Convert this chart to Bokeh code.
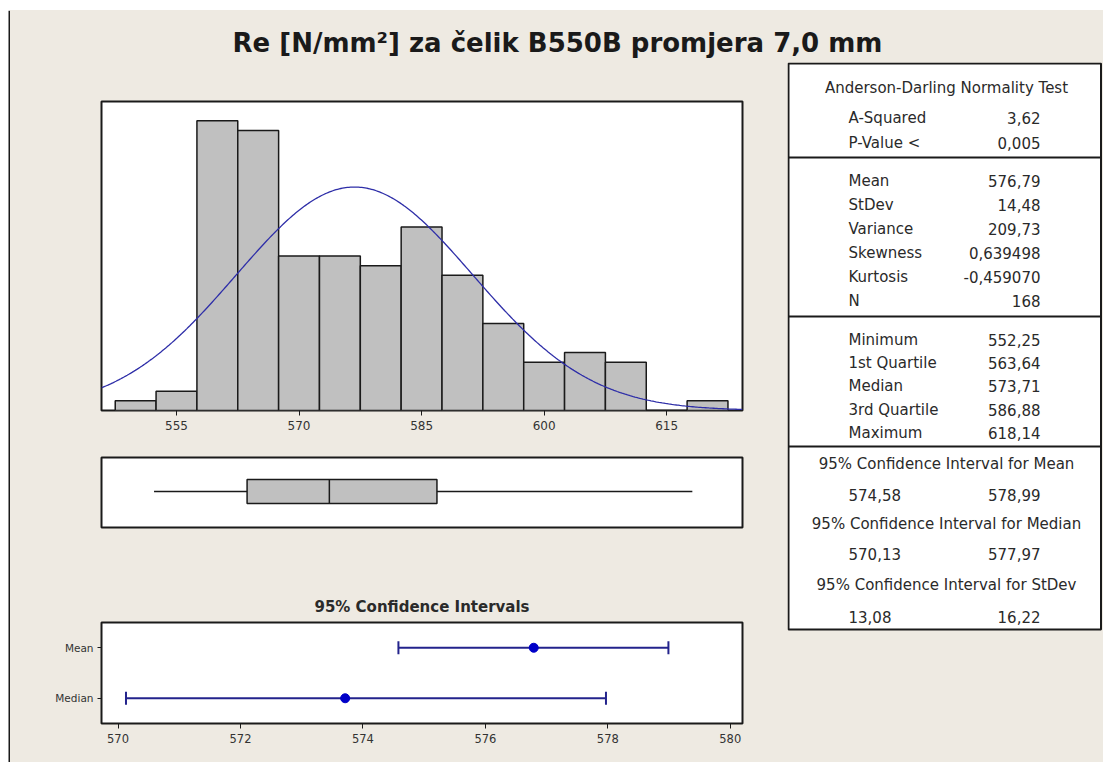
import numpy as np
from bokeh.plotting import figure
from bokeh.layouts import column, row
from bokeh.models import Range1d, FactorRange, FixedTicker
from bokeh.core.properties import value
from bokeh.embed import file_html
from bokeh.resources import INLINE

# ---------------- data ----------------
TITLE = "Re [N/mm²] za čelik B550B promjera 7,0 mm"
BIN_CENTERS = [550, 555, 560, 565, 570, 575, 580, 585, 590, 595, 600, 605, 610, 615, 620]
COUNTS = [1, 2, 30, 29, 16, 16, 15, 19, 14, 9, 5, 6, 5, 0, 1]
BIN_WIDTH = 5
HIST_TICKS = [555, 570, 585, 600, 615]

MEAN = 576.79
STDEV = 14.48
N = 168
MINIMUM = 552.25
Q1 = 563.64
MEDIAN = 573.71
Q3 = 586.88
MAXIMUM = 618.14

CI_LABELS = ["Median", "Mean"]
CI_CENTERS = [MEDIAN, MEAN]
CI_LOWS = [570.13, 574.58]
CI_HIGHS = [577.97, 578.99]
CI_TICKS = [570, 572, 574, 576, 578, 580]
CI_TITLE = "95% Confidence Intervals"

AD_HEADER = "Anderson-Darling Normality Test"
AD_LABELS = ["A-Squared", "P-Value <"]
AD_VALUES = ["3,62", "0,005"]
DESC_LABELS = ["Mean", "StDev", "Variance", "Skewness", "Kurtosis", "N"]
DESC_VALUES = ["576,79", "14,48", "209,73", "0,639498", "-0,459070", "168"]
QUART_LABELS = ["Minimum", "1st Quartile", "Median", "3rd Quartile", "Maximum"]
QUART_VALUES = ["552,25", "563,64", "573,71", "586,88", "618,14"]
CI_HEADERS = ["95% Confidence Interval for Mean",
              "95% Confidence Interval for Median",
              "95% Confidence Interval for StDev"]
CI_LOW_TXT = ["574,58", "570,13", "13,08"]
CI_HIGH_TXT = ["578,99", "577,97", "16,22"]

# ---------------- style ----------------
BG = "#EEEAE2"
DARK = "#1A1A1A"
TXT = "#2A2A2A"
FONT = "DejaVu Sans"
GRAY = "#C0C0C0"
CURVE = "#2E2EA8"
CI_LINE = "#23238C"
CI_DOT = "#0000C8"
LEFT_W = 777
HIST_X = (545.82, 624.28)
BGSTYLE = {"background-color": BG}


def base_fig(**kw):
    p = figure(toolbar_location=None, output_backend="svg", **kw)
    p.border_fill_color = BG
    p.background_fill_color = "white"
    p.outline_line_color = DARK
    p.outline_line_width = 2
    p.xgrid.visible = False
    p.ygrid.visible = False
    return p


def style_axis(ax, size):
    ax.major_label_text_font = FONT
    ax.major_label_text_font_size = size
    ax.major_label_text_color = "#333333"
    ax.axis_line_color = None
    ax.major_tick_line_color = DARK
    ax.major_tick_line_width = 1
    ax.major_tick_out = 5
    ax.major_tick_in = 0
    ax.minor_tick_out = 0
    ax.minor_tick_in = 0
    ax.major_label_standoff = 5


def plain_fig(w, h, xr, yr, fill):
    p = figure(width=w, height=h, toolbar_location=None, output_backend="svg",
               x_axis_location=None, y_axis_location=None, min_border=0,
               x_range=Range1d(*xr), y_range=Range1d(*yr))
    p.background_fill_color = fill
    p.border_fill_color = fill
    p.outline_line_color = None
    p.xgrid.visible = False
    p.ygrid.visible = False
    return p


# ---------------- histogram ----------------
hist = base_fig(width=LEFT_W, height=383, x_range=Range1d(*HIST_X), y_range=Range1d(0, 32),
                y_axis_location=None, min_border_left=91, min_border_right=45,
                min_border_top=39, min_border_bottom=35)
lefts = [c - BIN_WIDTH / 2 for c in BIN_CENTERS]
rights = [c + BIN_WIDTH / 2 for c in BIN_CENTERS]
hist.quad(left=lefts, right=rights, bottom=0, top=COUNTS, fill_color=GRAY,
          line_color=DARK, line_width=1.5)
xs = np.linspace(HIST_X[0], HIST_X[1], 400)
ys = N * BIN_WIDTH / (STDEV * np.sqrt(2 * np.pi)) * np.exp(-0.5 * ((xs - MEAN) / STDEV) ** 2)
hist.line(xs, ys, line_color=CURVE, line_width=1.3)
hist.xaxis.ticker = FixedTicker(ticks=HIST_TICKS)
style_axis(hist.xaxis, "12px")

# ---------------- boxplot ----------------
box = base_fig(width=LEFT_W, height=100, x_range=Range1d(*HIST_X), y_range=Range1d(0, 1),
               x_axis_location=None, y_axis_location=None, min_border_left=91,
               min_border_right=45, min_border_top=12, min_border_bottom=18)
box.segment(x0=[MINIMUM, Q3], y0=[0.514, 0.514], x1=[Q1, MAXIMUM], y1=[0.514, 0.514],
            line_color=DARK, line_width=1.5)
box.quad(left=[Q1], right=[Q3], bottom=[0.343], top=[0.686], fill_color=GRAY,
         line_color=DARK, line_width=1.5)
box.segment(x0=[MEDIAN], y0=[0.343], x1=[MEDIAN], y1=[0.686], line_color=DARK, line_width=1.5)

# ---------------- confidence intervals ----------------
ci = base_fig(width=LEFT_W, height=217, x_range=Range1d(569.73, 580.2),
              y_range=FactorRange(factors=CI_LABELS), min_border_left=91,
              min_border_right=45, min_border_top=77, min_border_bottom=39,
              title=CI_TITLE)
ci.title.align = "center"
ci.title.text_font = FONT
ci.title.text_font_size = "15px"
ci.title.text_font_style = "bold"
ci.title.text_color = TXT
ci.title.standoff = 13
ci.segment(x0=CI_LOWS, y0=CI_LABELS, x1=CI_HIGHS, y1=CI_LABELS, line_color=CI_LINE, line_width=2)
ci.scatter(x=CI_LOWS + CI_HIGHS, y=CI_LABELS + CI_LABELS, marker="dash", angle=np.pi / 2,
           size=13, line_color=CI_LINE, line_width=2)
ci.scatter(x=CI_CENTERS, y=CI_LABELS, marker="circle", size=9, fill_color=CI_DOT, line_color=CI_DOT)
ci.xaxis.ticker = FixedTicker(ticks=CI_TICKS)
style_axis(ci.xaxis, "11.5px")
style_axis(ci.yaxis, "10.5px")
ci.yaxis.major_tick_out = 4
ci.yaxis.major_label_standoff = 4

# ---------------- title ----------------
ttl = plain_fig(1093, 52, (10, 1103), (62, 10), BG)
ttl.text(x=[557], y=[42], text=[TITLE], text_align="center", text_baseline="middle",
         text_font=value(FONT), text_font_style="bold", text_font_size="26px", text_color=DARK)

# ---------------- statistics table ----------------
tab = plain_fig(316, 700, (787, 1103), (762, 62), BG)
tab.quad(left=[788], right=[1100.5], top=[63], bottom=[629], fill_color="white",
         line_color=DARK, line_width=2)
tab.segment(x0=[788] * 3, x1=[1100.5] * 3, y0=[157, 316, 446], y1=[157, 316, 446],
            line_color=DARK, line_width=2)

LX, RX, CX = 848, 1040, 946
FS = "15px"


def tcol(xv, yv, txt, align):
    tab.text(x=xv, y=yv, text=txt, text_align=align, text_baseline="middle",
             text_font=value(FONT), text_font_size=FS, text_color=TXT)


ad_y = [117, 142]
desc_y = [180, 204, 228, 252, 276, 300]
quart_y = [339, 362, 385, 409, 432]
cih_y = [463, 523, 584]
civ_y = [494, 553, 616]

tcol([CX], [87], [AD_HEADER], "center")
tcol([LX] * 2, ad_y, AD_LABELS, "left")
tcol([RX] * 2, ad_y, AD_VALUES, "right")
tcol([LX] * 6, desc_y, DESC_LABELS, "left")
tcol([RX] * 6, desc_y, DESC_VALUES, "right")
tcol([LX] * 5, quart_y, QUART_LABELS, "left")
tcol([RX] * 5, quart_y, QUART_VALUES, "right")
tcol([CX] * 3, cih_y, CI_HEADERS, "center")
tcol([LX] * 3, civ_y, CI_LOW_TXT, "left")
tcol([RX] * 3, civ_y, CI_HIGH_TXT, "right")

# ---------------- frame edges (white page margin + dark border line) ----------------
top_strip = plain_fig(1103, 10, (0, 1103), (10, 0), "white")
top_strip.quad(left=[8], right=[1103], top=[8], bottom=[10], fill_color=DARK, line_color=None)
left_strip = plain_fig(10, 752, (0, 10), (0, 1), "white")
left_strip.quad(left=[8], right=[10], top=[1], bottom=[0], fill_color=DARK, line_color=None)

# ---------------- layout ----------------
left_col = column(hist, box, ci, spacing=0, styles=BGSTYLE)
lower = row(left_col, tab, spacing=0, styles=BGSTYLE)
content = column(ttl, lower, spacing=0, styles=BGSTYLE)
root = column(top_strip, row(left_strip, content, spacing=0), spacing=0)

open("out.html", "w").write(file_html(root, INLINE))
